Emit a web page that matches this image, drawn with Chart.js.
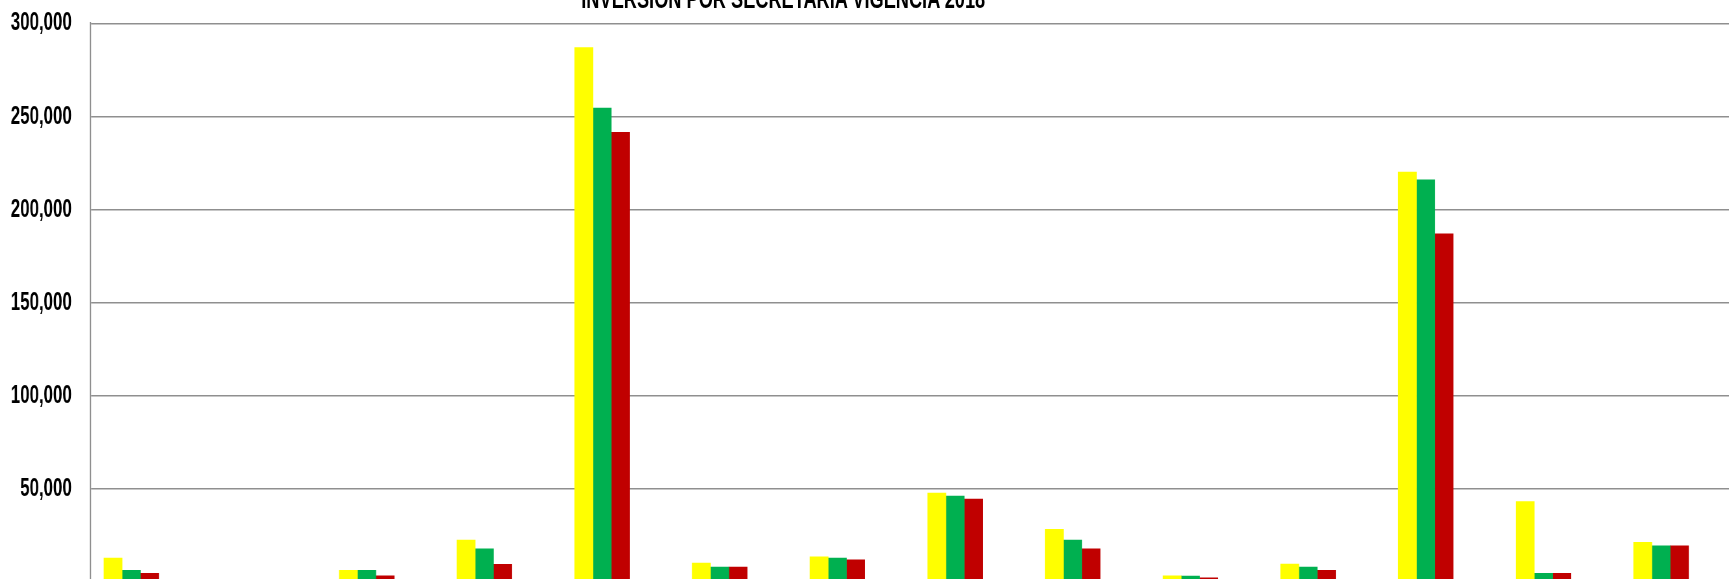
<!DOCTYPE html>
<html>
<head>
<meta charset="utf-8">
<script src="https://cdn.jsdelivr.net/npm/chart.js@4.4.1/dist/chart.umd.min.js"></script>
<style>
    html, body { margin: 0; padding: 0; background: #fff; overflow: hidden; width: 1729px; height: 579px; }
    /* the original picture is squeezed sideways, so the whole chart is drawn wide and scaled */
    .frame { position: absolute; left: 0; top: 0; width: 2700px; height: 600px; transform: scaleX(0.65); transform-origin: 0 0; }
    .titulo {
        position: absolute; top: -15px; left: 1205px; transform: translateX(-50%);
        font: bold 28px "Liberation Sans", Arial, sans-serif; line-height: 1; white-space: nowrap; color: #000;
    }
    canvas { position: absolute; left: 0; top: 0; }
</style>
</head>
<body>
<div class="frame">
    <div class="titulo">INVERSION POR SECRETARIA VIGENCIA 2018</div>
    <canvas id="grafico" width="2700" height="600" style="width:2700px;height:600px"></canvas>
</div>
<script>
const categorias = ['1', '2', '3', '4', '5', '6', '7', '8', '9', '10', '11', '12', '13', '14'];
const serieAmarilla = [12800, null, 6200, 22500, 287000, 10100, 13400, 47700, 28200, 3200, 9600, 220100, 43100, 21200];
const serieVerde = [6200, null, 6200, 17700, 254500, 8000, 12800, 46100, 22500, 3100, 8000, 216000, 4600, 19400];
const serieRoja = [4600, null, 3200, 9400, 241500, 8000, 11900, 44500, 17700, 2200, 6200, 187000, 4600, 19400];
// the 0 line sits just below the visible picture, so only these ticks show
const ticksY = [50000, 100000, 150000, 200000, 250000, 300000];

const puntos = serie => serie.map((v, i) => ({ x: i, y: v, cat: categorias[i] }));

new Chart(document.getElementById('grafico'), {
    type: 'bar',
    data: {
        datasets: [
            { label: 'Serie 1', data: puntos(serieAmarilla), backgroundColor: '#FFFF00' },
            { label: 'Serie 2', data: puntos(serieVerde), backgroundColor: '#00B050' },
            { label: 'Serie 3', data: puntos(serieRoja), backgroundColor: '#C00000' }
        ]
    },
    options: {
        responsive: false,
        animation: false,
        barThickness: 28.2,
        layout: { padding: { top: 23.3, bottom: 18.1, left: 0, right: 0 } },
        plugins: {
            legend: { display: false },
            title: { display: false },
            tooltip: { callbacks: { title: items => items[0].raw.cat } }
        },
        scales: {
            x: {
                type: 'linear',
                display: false,
                offset: false,
                min: -0.346,
                max: 13.798
            },
            y: {
                min: 0,
                max: 300000,
                afterBuildTicks: axis => { axis.ticks = ticksY.map(v => ({ value: v })); },
                afterFit: axis => { axis.width = 139.5; },
                grid: { color: '#8f8f8f', lineWidth: 1.6, drawTicks: true, tickLength: 29, tickColor: 'rgba(0,0,0,0)' },
                border: { display: true, color: '#8f8f8f', width: 2.2 },
                ticks: {
                    padding: 0,
                    color: '#000',
                    font: { family: '"Liberation Sans", Arial, sans-serif', size: 26, weight: 'bold' },
                    callback: v => v.toLocaleString('en-US')
                }
            }
        }
    }
});
</script>
</body>
</html>
